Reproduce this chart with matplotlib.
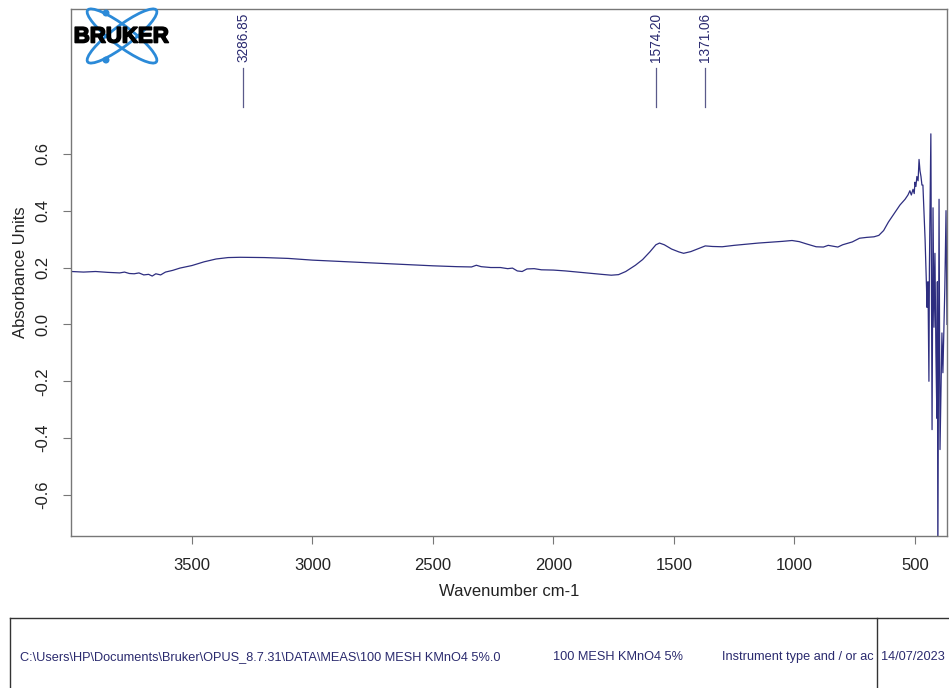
import matplotlib.pyplot as plt
import numpy as np
from matplotlib.patches import Ellipse, Circle
from matplotlib.lines import Line2D
import matplotlib.transforms as mtransforms
import matplotlib.patheffects as pe

plt.rcParams['font.family'] = ['Liberation Sans', 'DejaVu Sans']

# spectrum (wavenumber cm-1, absorbance)
wavenumber = [4000, 3950, 3900, 3850, 3800, 3780, 3760, 3740, 3720, 3700,
              3680, 3665, 3650, 3630, 3610, 3580, 3550, 3500, 3450, 3400,
              3350, 3300, 3200, 3100, 3000, 2900, 2800, 2700, 2600, 2500,
              2400, 2340, 2320, 2300, 2260, 2220, 2190, 2170, 2150, 2130,
              2110, 2080, 2050, 2000, 1950, 1900, 1850, 1800, 1760, 1730,
              1700, 1660, 1630, 1600, 1575, 1560, 1540, 1510, 1480, 1460,
              1430, 1400, 1370, 1340, 1300, 1250, 1200, 1150, 1100, 1050,
              1010, 980, 950, 910, 880, 860, 840, 820, 800, 760,
              730, 700, 670, 650, 630, 610, 590, 562, 541, 529,
              521, 515, 508, 503, 500, 496, 492, 487, 483, 479,
              475, 471, 467, 458, 452, 450, 446, 442, 440, 434,
              429, 425, 421, 417, 413, 409, 407, 405, 400, 396,
              388, 384, 376, 371, 367]
absorbance = [0.186, 0.184, 0.186, 0.183, 0.181, 0.184, 0.179, 0.178, 0.181, 0.174,
              0.176, 0.170, 0.178, 0.174, 0.184, 0.190, 0.198, 0.207, 0.220, 0.230,
              0.235, 0.236, 0.235, 0.232, 0.226, 0.222, 0.218, 0.214, 0.210, 0.206,
              0.203, 0.202, 0.208, 0.203, 0.200, 0.200, 0.196, 0.198, 0.188, 0.186,
              0.195, 0.196, 0.192, 0.191, 0.188, 0.184, 0.180, 0.176, 0.173, 0.175,
              0.186, 0.208, 0.228, 0.255, 0.280, 0.286, 0.280, 0.265, 0.255, 0.250,
              0.256, 0.266, 0.276, 0.274, 0.273, 0.278, 0.282, 0.286, 0.289, 0.292,
              0.295, 0.291, 0.283, 0.273, 0.272, 0.278, 0.275, 0.272, 0.280, 0.290,
              0.303, 0.306, 0.308, 0.313, 0.330, 0.360, 0.385, 0.420, 0.440, 0.455,
              0.470, 0.455, 0.475, 0.460, 0.500, 0.485, 0.520, 0.505, 0.580, 0.540,
              0.520, 0.490, 0.490, 0.300, 0.130, 0.060, 0.150, -0.200, 0.200, 0.670,
              -0.370, 0.410, -0.010, 0.250, -0.100, -0.330, 0.150, -0.850, 0.440, -0.440,
              -0.030, -0.170, 0.130, 0.400, 0.000]

peaks = [3286.85, 1574.20, 1371.06]
file_path = r"C:\Users\HP\Documents\Bruker\OPUS_8.7.31\DATA\MEAS\100 MESH KMnO4 5%.0"
sample_name = "100 MESH KMnO4 5%"
instrument = "Instrument type and / or ac"
date = "14/07/2023"

W, H = 949, 688
fig = plt.figure(figsize=(W / 100, H / 100), dpi=100)
ax = fig.add_axes([71 / W, 1 - 536 / H, 876 / W, 527 / H])

navy = '#2e2e80'
ax.plot(wavenumber, absorbance, color=navy, lw=0.9)
ax.set_xlim(4002, 367)
ax.set_ylim(-0.744, 1.109)

ax.set_xticks([3500, 3000, 2500, 2000, 1500, 1000, 500])
ax.set_yticks([-0.6, -0.4, -0.2, 0.0, 0.2, 0.4, 0.6])
ax.set_yticklabels(['-0.6', '-0.4', '-0.2', '0.0', '0.2', '0.4', '0.6'],
                   rotation=90, va='center')
ax.tick_params(direction='out', length=6, width=0.8, color='#777777',
               labelsize=12, labelcolor='#222222')
ax.tick_params(axis='x', pad=10)
ax.tick_params(axis='y', pad=9)
for s in ax.spines.values():
    s.set_color('#777777')
    s.set_linewidth(1.0)
ax.set_xlabel('Wavenumber cm-1', fontsize=12, color='#222222', labelpad=8)
ax.set_ylabel('Absorbance Units', fontsize=12, color='#222222', labelpad=5)

# peak markers
trans = mtransforms.blended_transform_factory(ax.transData, ax.transAxes)
for p in peaks:
    ax.plot([p, p], [0.814, 0.888], transform=trans, color='#5a5a8a', lw=0.9,
            clip_on=False)
    ax.text(p, 0.899, f"{p:.2f}", transform=trans, rotation=90, ha='center',
            va='bottom', fontsize=9.8, color='#2a2a70')

# Bruker logo
lax = fig.add_axes([60 / W, 1 - 68 / H, 120 / W, 63 / H])
lax.set_xlim(60, 180)
lax.set_ylim(68, 5)
lax.axis('off')
blue = '#2b8ad8'
for ang in (37, -37):
    lax.add_patch(Ellipse((122, 36), 86, 20, angle=ang, fill=False,
                          edgecolor=blue, lw=2.0))
lax.add_patch(Circle((106, 13), 2.8, color=blue))
lax.add_patch(Circle((106, 60), 2.8, color=blue))
lax.text(121.5, 37, 'BRUKER', ha='center', va='center', fontsize=16,
         fontweight='bold', color='black',
         path_effects=[pe.withStroke(linewidth=1.2, foreground='black')])

# footer box
def px_line(x0, y0, x1, y1):
    fig.add_artist(Line2D([x0 / W, x1 / W], [1 - y0 / H, 1 - y1 / H],
                          color='#333333', lw=1.0))

px_line(10, 618, W, 618)
px_line(10, 618, 10, H)
px_line(877, 618, 877, H)

fy = 1 - 657 / H
fc = '#2a2a6e'
fig.text(20 / W, fy, file_path, fontsize=9.2, color=fc, va='center')
fig.text(553 / W, fy, sample_name, fontsize=9.2, color=fc, va='center')
fig.text(722 / W, fy, instrument, fontsize=9.2, color=fc, va='center')
fig.text(881 / W, fy, date, fontsize=9.2, color=fc, va='center')

fig.savefig('out.png', dpi=100)
